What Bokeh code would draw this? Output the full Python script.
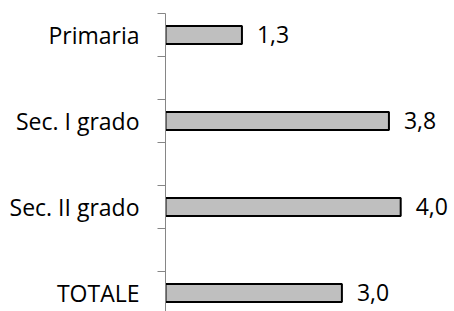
from bokeh.plotting import figure
from bokeh.models import Range1d, FixedTicker, ColumnDataSource
from bokeh.core.properties import value
from bokeh.embed import file_html
from bokeh.resources import INLINE

categories = ["Primaria", "Sec. I grado", "Sec. II grado", "TOTALE"]
values = [1.3, 3.8, 4.0, 3.0]
positions = [0, 2, 4, 6]  # category slots (blank slot between categories)
value_labels = [f"{v:.1f}".replace(".", ",") for v in values]

FONT = "Open Sans"

src = ColumnDataSource(dict(y=positions, v=values, lab=value_labels))

p = figure(width=454, height=311, output_backend="svg", toolbar_location=None,
           x_range=Range1d(0, 4.915), y_range=Range1d(6.43, -0.5),
           min_border_left=165, min_border_right=0, min_border_top=13, min_border_bottom=0)
p.outline_line_color = None
p.xaxis.visible = False
p.xgrid.visible = False
p.ygrid.visible = False

p.hbar(y="y", left=0, right="v", height=0.42, source=src,
       fill_color="#bfbfbf", line_color="#000000", line_width=2)

p.text(x="v", y="y", text="lab", source=src, x_offset=15, y_offset=-1,
       text_baseline="middle", text_align="left",
       text_font=value(FONT), text_font_size="23px", text_color="#000000")

ax = p.yaxis[0]
ax.ticker = FixedTicker(ticks=positions,
                        minor_ticks=[-0.5 + i for i in range(8)])
ax.major_label_overrides = {pos: c for pos, c in zip(positions, categories)}
ax.major_tick_out = 0
ax.major_tick_in = 0
ax.minor_tick_out = 8
ax.minor_tick_in = 0
ax.minor_tick_line_color = "#868686"
ax.minor_tick_line_width = 1
ax.axis_line_color = "#868686"
ax.axis_line_width = 1
ax.major_label_standoff = 18
ax.major_label_text_font = FONT
ax.major_label_text_font_size = "23px"
ax.major_label_text_color = "#000000"

open("out.html", "w").write(file_html(p, INLINE))
